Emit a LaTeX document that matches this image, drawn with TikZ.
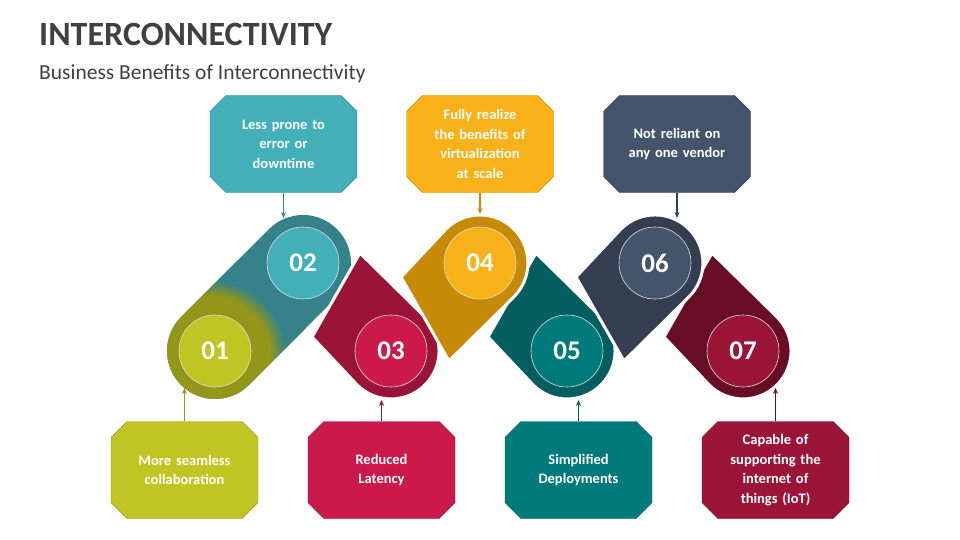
\documentclass[tikz,border=0pt]{standalone}
\usepackage{fontspec}
\setmainfont{Carlito}
\usetikzlibrary{shapes.misc,arrows.meta}
\definecolor{olD}{HTML}{939618}\definecolor{olL}{HTML}{C1C523}
\definecolor{tlD}{HTML}{35828A}\definecolor{tlL}{HTML}{43AFB8}
\definecolor{crD}{HTML}{9A1438}\definecolor{crL}{HTML}{CB1A4A}
\definecolor{goD}{HTML}{C78A06}\definecolor{goL}{HTML}{F8B119}
\definecolor{dtD}{HTML}{045D5E}\definecolor{dtL}{HTML}{007A7A}
\definecolor{slD}{HTML}{333F50}\definecolor{slL}{HTML}{44546A}
\definecolor{mrD}{HTML}{670D26}\definecolor{mrL}{HTML}{9B1538}
\definecolor{txt}{HTML}{404040}
\pgfdeclareradialshading{olteal}{\pgfpoint{0bp}{0bp}}{color(0bp)=(olD); color(15bp)=(olD); color(19bp)=(tlD); color(50bp)=(tlD)}
\tikzset{
 infobox/.style={chamfered rectangle, chamfered rectangle xsep=8pt, chamfered rectangle ysep=8pt, minimum width=147pt, minimum height=97pt, inner sep=0pt, text width=130pt, align=center, text=white, font=\fontsize{14.5}{19.5}\selectfont\bfseries},
 numc/.style={circle, minimum size=72pt, inner sep=0pt, draw=white!75!gray, line width=0.6pt, text=white, font=\fontsize{27}{30}\selectfont\bfseries},
 conn/.style={line width=1.3pt, -{Stealth[length=6pt,width=5pt]}},
 band/.style={draw=white, line width=3pt, line join=round}
}
\begin{document}
\begin{tikzpicture}[x=1pt,y=-1pt]
\useasboundingbox (0,0) rectangle (960,540);
\node[anchor=base west, text=txt, font=\fontsize{34}{36}\selectfont\bfseries, inner sep=0pt] (title) at (39,46) {INTERCONNECTIVITY};
\node[anchor=base west, text=txt, font=\fontsize{21.5}{24}\selectfont, inner sep=0pt] (sub) at (39,80) {Business Benefits of Interconnectivity};
% pill 01-02
\begin{scope}
 \clip (215,351) ++(45:48) arc (45:225:48) -- ++(-45:{sqrt(2)*88}) arc (225:405:48) -- cycle;
 \fill[tlD] (150,200) rectangle (370,420);
 \shade[shading=olteal] (210,356) circle (100);
\end{scope}
% down-pointing shapes (03,05,07)
\foreach \cx/\col in {391/crD,567/dtD,743/mrD}{
 \filldraw[band,fill=\col] (\cx-31,351-98) -- (\cx+34,351-34) arc (-45:135:48) -- (\cx-79,351-14) -- cycle;
}
% up shapes (04,06)
\foreach \cx/\col in {480/goD,655/slD}{
 \filldraw[band,fill=\col] (\cx-79,263+14) -- (\cx-34,263-34) arc (-135:45:48) -- (\cx-31,263+98) -- cycle;
}
\node[numc,fill=olL] (n1) at (215,351) {01};
\node[numc,fill=tlL] (n2) at (303,263) {02};
\node[numc,fill=crL] (n3) at (391,351) {03};
\node[numc,fill=goL] (n4) at (480,263) {04};
\node[numc,fill=dtL] (n5) at (567,351) {05};
\node[numc,fill=slL] (n6) at (655,263) {06};
\node[numc,fill=mrL] (n7) at (743,351) {07};
% boxes
\node[infobox,fill=tlL,draw=tlD] (b2) at (283.5,144) {Less prone to\\error or\\downtime};
\node[infobox,fill=goL,draw=goD] (b4) at (480,144) {Fully realize\\the benefits of\\virtualization\\at scale};
\node[infobox,fill=slL,draw=slD] (b6) at (677,144) {Not reliant on\\any one vendor};
\node[infobox,fill=olL,draw=olD] (b1) at (184.5,470) {More seamless\\collaboration};
\node[infobox,fill=crL,draw=crD] (b3) at (381.5,470) {Reduced\\Latency};
\node[infobox,fill=dtL,draw=dtD] (b5) at (578.5,470) {Simplified\\Deployments};
\node[infobox,fill=mrL,draw=mrD] (b7) at (775.5,470) {Capable of\\supporting the\\internet of\\things (IoT)};
\coordinate (e2) at (283.5,218);\coordinate (e4) at (480,214);\coordinate (e6) at (677,218);
\coordinate (e1) at (184.5,388);\coordinate (e3) at (381.5,400);\coordinate (e5) at (578.5,400);\coordinate (e7) at (775.5,388);
\draw[conn,tlD] (b2.south) -- (e2);
\draw[conn,goD] (b4.south) -- (e4);
\draw[conn,slD] (b6.south) -- (e6);
\draw[conn,olD] (b1.north) -- (e1);
\draw[conn,crD] (b3.north) -- (e3);
\draw[conn,dtD] (b5.north) -- (e5);
\draw[conn,mrD] (b7.north) -- (e7);
\end{tikzpicture}
\end{document}
